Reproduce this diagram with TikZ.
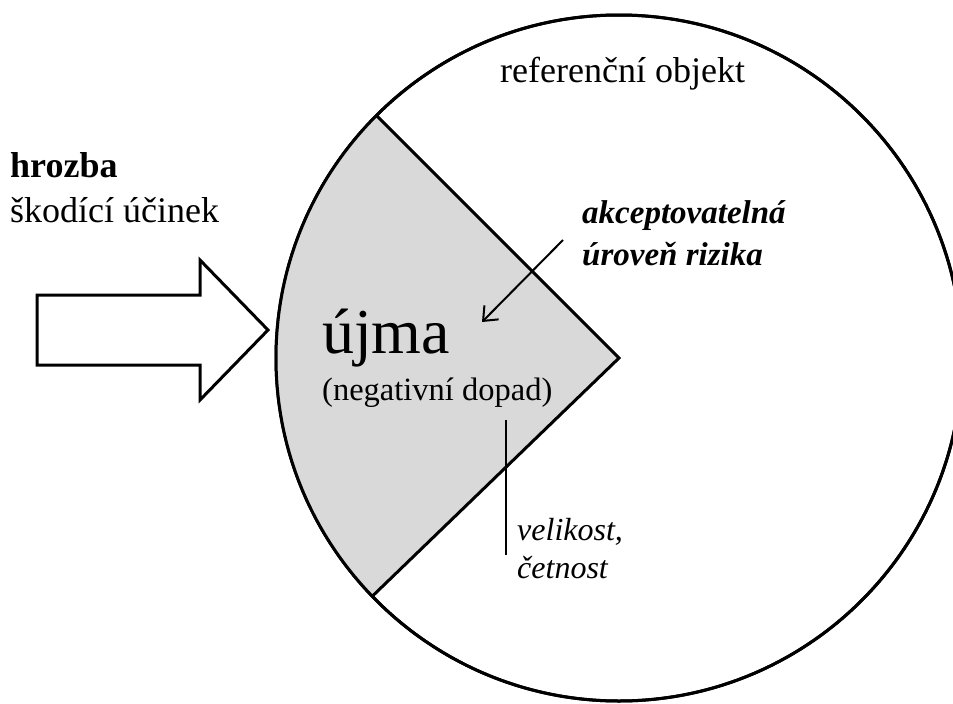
\documentclass[tikz,border=0pt]{standalone}
\usepackage{fontspec}
\setmainfont{Liberation Serif}
\newfontfamily\tms{Liberation Serif}
\usetikzlibrary{arrows.meta}
\definecolor{wedgegray}{HTML}{D9D9D9}
\tikzset{
  txt/.style={inner sep=0pt, anchor=base west},
  outline/.style={draw=black, line width=3pt, line join=miter},
  thin/.style={draw=black, line width=2pt},
}
\begin{document}
\begin{tikzpicture}[x=1pt, y=-1pt]
\useasboundingbox (0,0) rectangle (953,704);
\begin{scope}
\clip (0,0) rectangle (953,704);
% reference object circle
\coordinate (c) at (619,358);
\draw[outline, fill=white] (c) circle[radius=343];
% wedge (harm)
\fill[wedgegray] (c) -- ++(136:343) arc[start angle=136, end angle=225, radius=343] -- cycle;
\draw[outline] (c) ++(136:343) coordinate (wtop) -- (c) -- ++(225:343) coordinate (wbot);
\draw[outline] (c) circle[radius=343];
\end{scope}
% block arrow (threat)
\draw[outline, fill=white] (37,295) -- (200,295) -- (200,260) -- (268,330) -- (200,400) -- (200,365) -- (37,365) -- cycle;
% texts
\node[txt] (hrozba) at (10,177) {\tms\fontsize{36}{40}\selectfont\bfseries hrozba};
\node[txt] (ucinek) at (10,222) {\tms\fontsize{36}{40}\selectfont škodící účinek};
\node[txt] (ref) at (500,82) {\tms\fontsize{36}{40}\selectfont referenční objekt};
\node[txt] (ujma) at (322,353) {\tms\fontsize{64}{70}\selectfont újma};
\node[txt] (dopad) at (322,400) {\tms\fontsize{32.5}{36}\selectfont (negativní dopad)};
\node[txt] (akc) at (582,223) {\tms\fontsize{33}{38}\selectfont\bfseries\itshape akceptovatelná};
\node[txt] (uroven) at (582,265) {\tms\fontsize{33}{38}\selectfont\bfseries\itshape úroveň rizika};
\node[txt] (vel) at (517,540) {\tms\fontsize{32}{36}\selectfont\itshape velikost,};
\node[txt] (cet) at (517,578) {\tms\fontsize{32}{36}\selectfont\itshape četnost};
% pointer arrow and line
\coordinate (pa) at (563,240);
\coordinate (pb) at (482,322);
\draw[thin, -{Straight Barb[length=12pt, width=20pt, line width=2pt]}] (pa) -- (pb);
\coordinate (la) at (506,420);
\coordinate (lb) at (506,555);
\draw[thin] (la) -- (lb);
\end{tikzpicture}
\end{document}
